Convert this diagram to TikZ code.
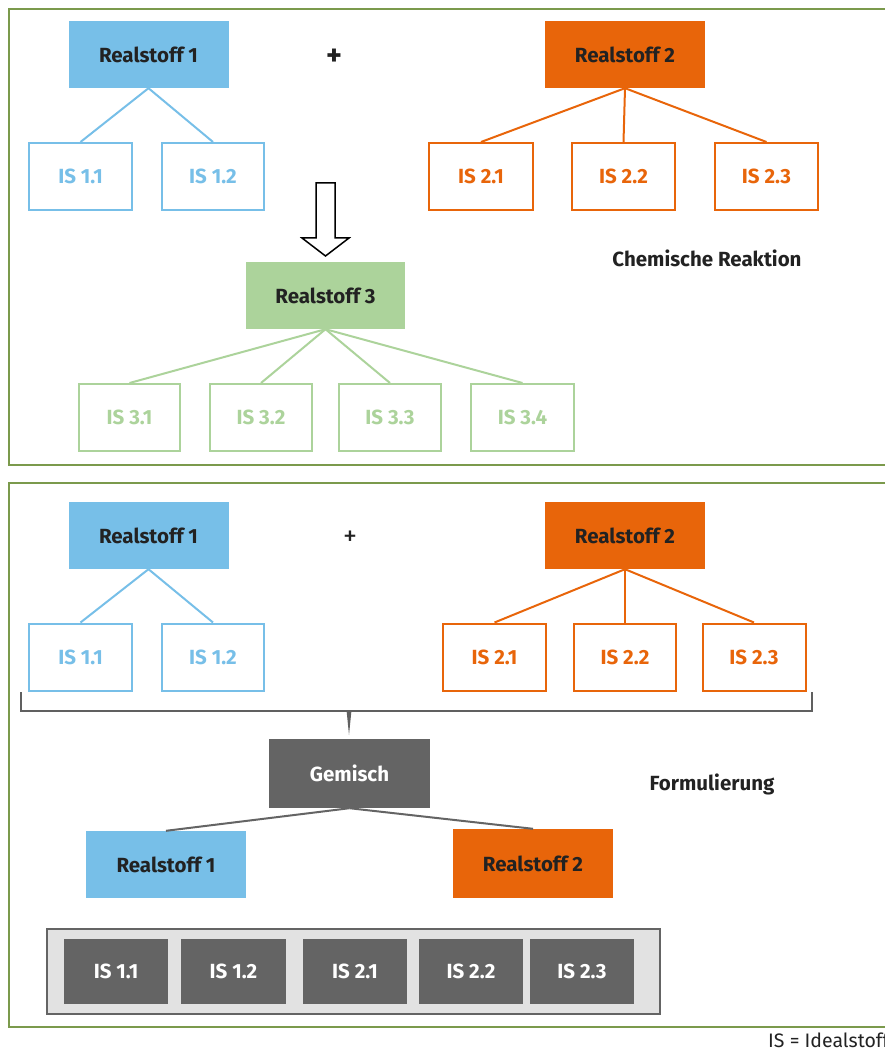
\documentclass[tikz,border=0pt]{standalone}
\usepackage{fontspec}
\setmainfont{Fira Sans}
\definecolor{cblue}{HTML}{77BFE8}
\definecolor{corange}{HTML}{E8650A}
\definecolor{cgreen}{HTML}{ACD39B}
\definecolor{cdark}{HTML}{646464}
\definecolor{colive}{HTML}{7B9A4C}
\definecolor{cfill}{HTML}{E2E2E2}
\definecolor{ctext}{HTML}{222222}
\definecolor{cbrace}{HTML}{606060}
\begin{document}
\begin{tikzpicture}[x=1pt,y=-1pt,
  lbl/.style={font=\fontsize{20.5}{23}\selectfont\bfseries},
  real/.style={rectangle,fill=#1,draw=none,minimum width=160,minimum height=67,inner sep=0,lbl,text=ctext},
  isbox/.style={rectangle,draw=#1,fill=white,line width=2,minimum width=101,minimum height=67,inner sep=0,lbl,text=#1},
  dbox/.style={rectangle,fill=cdark,draw=none,minimum width=104,minimum height=65,inner sep=0,lbl,text=white},
  conn/.style={draw=#1,line width=2},
  frame/.style={draw=colive,line width=2},
  note/.style={lbl,text=ctext}
]
\useasboundingbox (0,0) rectangle (884,1048);
% frames
\draw[frame] (9,9) rectangle (900,465);
\draw[frame] (9,483) rectangle (900,1027);

% ===== Chemische Reaktion =====
\node[real=cblue] (r1a) at (148.5,54.5) {Realstoff 1};
\node[note,font=\fontsize{30}{32}\selectfont\bfseries] (plusa) at (334,57) {+};
\node[real=corange] (r2a) at (625,54.5) {Realstoff 2};
\node[isbox=cblue,minimum width=103] (i11a) at (80.5,176.5) {IS 1.1};
\node[isbox=cblue,minimum width=102] (i12a) at (213,176.5) {IS 1.2};
\node[isbox=corange,minimum width=104] (i21a) at (481,176.5) {IS 2.1};
\node[isbox=corange,minimum width=103] (i22a) at (623.5,176.5) {IS 2.2};
\node[isbox=corange,minimum width=103] (i23a) at (766.5,176.5) {IS 2.3};
\draw[conn=cblue] (r1a.south) -- (i11a.north);
\draw[conn=cblue] (r1a.south) -- (i12a.north);
\draw[conn=corange] (r2a.south) -- (i21a.north);
\draw[conn=corange] (r2a.south) -- (i22a.north);
\draw[conn=corange] (r2a.south) -- (i23a.north);

% block arrow
\draw[line width=1.5,fill=white,line join=miter]
  (316,183) -- (335,183) -- (335,238) -- (349,238) -- (325.5,256) -- (302,238) -- (316,238) -- cycle;

\node[real=cgreen,minimum width=159] (r3) at (325.5,295.5) {Realstoff 3};
\node[note] (chem) at (707,258) {Chemische Reaktion};
\node[isbox=cgreen] (i31) at (129.5,417.5) {IS 3.1};
\node[isbox=cgreen,minimum width=102] (i32) at (261,417.5) {IS 3.2};
\node[isbox=cgreen,minimum width=102] (i33) at (390,417.5) {IS 3.3};
\node[isbox=cgreen,minimum width=103] (i34) at (522.5,417.5) {IS 3.4};
\foreach \t in {i31,i32,i33,i34} \draw[conn=cgreen] (r3.south) -- (\t.north);

% ===== Formulierung =====
\node[real=cblue] (r1b) at (148.5,535.5) {Realstoff 1};
\node[note,font=\fontsize{28}{30}\selectfont] (plusb) at (350,538) {+};
\node[real=corange] (r2b) at (625,535.5) {Realstoff 2};
\node[isbox=cblue,minimum width=103] (i11b) at (80.5,657) {IS 1.1};
\node[isbox=cblue,minimum width=102] (i12b) at (213,657) {IS 1.2};
\node[isbox=corange,minimum width=103] (i21b) at (494.5,657) {IS 2.1};
\node[isbox=corange,minimum width=102] (i22b) at (625,657) {IS 2.2};
\node[isbox=corange,minimum width=103] (i23b) at (754,657) {IS 2.3};
\draw[conn=cblue] (r1b.south) -- (i11b.north);
\draw[conn=cblue] (r1b.south) -- (i12b.north);
\draw[conn=corange] (r2b.south) -- (i21b.north);
\draw[conn=corange] (r2b.south) -- (i22b.north);
\draw[conn=corange] (r2b.south) -- (i23b.north);

% brace
\coordinate (bl) at (21,692);
\coordinate (br) at (812,692);
\coordinate (btip) at (349,735);
\draw[cbrace,line width=2.2] (bl) -- (21,711) -- (812,711) -- (br);
\fill[cbrace] (346.5,710) -- (351.5,710) -- (btip) -- cycle;

\node[real=cdark,minimum width=161,minimum height=69,text=white] (gem) at (349.5,773.5) {Gemisch};
\node[note] (form) at (712,784) {Formulierung};
\node[real=cblue] (r1c) at (166,864.5) {Realstoff 1};
\node[real=corange,minimum height=69] (r2c) at (533,863.5) {Realstoff 2};
\draw[conn=cdark] (gem.south) -- (r1c.north);
\draw[conn=cdark] (gem.south) -- (r2c.north);

% container
\draw[draw=cdark,fill=cfill,line width=2] (47,929) rectangle (660,1014);
\node[dbox] (d11) at (116,971.5) {IS 1.1};
\node[dbox,minimum width=105] (d12) at (233.5,971.5) {IS 1.2};
\node[dbox] (d21) at (355,971.5) {IS 2.1};
\node[dbox] (d22) at (471,971.5) {IS 2.2};
\node[dbox] (d23) at (582,971.5) {IS 2.3};

\node[anchor=west,font=\fontsize{19.5}{21}\selectfont,text=ctext,inner sep=0] (foot) at (768,1040) {IS = Idealstoff};
\end{tikzpicture}
\end{document}
